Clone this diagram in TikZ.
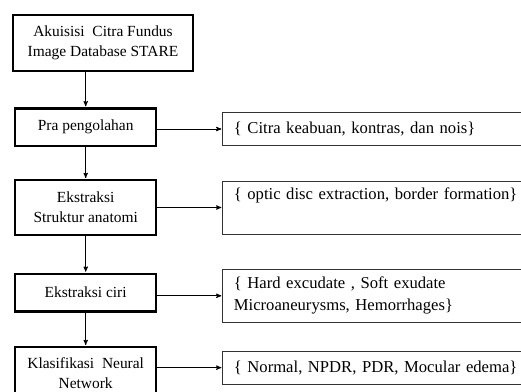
\documentclass[tikz,border=0pt]{standalone}
\usepackage{fontspec}
\setmainfont{Liberation Serif}
\usetikzlibrary{arrows, positioning}

\begin{document}
\begin{tikzpicture}[>=stealth',shorten >=1pt, line width=0.9bp,
		tahap/.style={draw, line width=2.4bp, minimum width=141bp, align=center,
			font=\fontsize{15.5}{20}\selectfont, inner sep=2bp},
		ket/.style={draw=black!80, line width=1bp, text width=285bp, inner xsep=11bp,
			align=left, font=\fontsize{16.7}{22}\selectfont}]
		\useasboundingbox (0,0) rectangle (521bp,-392bp);

		\node[tahap, minimum width=179.6bp, minimum height=55.6bp] (0) at (103bp,-43bp)
			{Akuisisi\ \ Citra Fundus\\Image Database STARE};
		\node[tahap, minimum height=37.6bp] (1) [below=35.3bp of 0, xshift=-17.3bp] {Pra pengolahan};
		\node[tahap, minimum height=54.6bp] (2) [below=31.7bp of 1] {Ekstraksi\\Struktur anatomi};
		\node[tahap, minimum height=37.6bp] (3) [below=36.7bp of 2] {Ekstraksi ciri};
		\node[tahap, minimum height=51.5bp] (4) [below=33.3bp of 3] {Klasifikasi\ \ Neural\\Network};

		\node[ket, minimum height=33bp] (n1) [right=65bp of 1, yshift=-1.7bp]
			{\{ Citra keabuan, kontras, dan nois\}};
		\node[ket, minimum height=53bp] (n2) [right=65bp of 2]
			{\{ optic disc extraction, border formation\}\\\strut};
		\node[ket, minimum height=53bp] (n3) [right=65bp of 3, yshift=-3.1bp]
			{\{ Hard excudate , Soft exudate\\Microaneurysms, Hemorrhages\}};
		\node[ket, minimum height=33bp] (n4) [right=65bp of 4, yshift=5.3bp]
			{\{ Normal, NPDR, PDR, Mocular edema\}};

		\path[->](0.south -| 1.north) edge (1.north);
		\path[->](1) edge (2);
		\path[->](2) edge (3);
		\path[->](3) edge (4);

		\path[->](1.east |- n1.west) edge (n1.west);
		\path[->](2.east |- n2.west) edge (n2.west);
		\path[->](3.east |- n3.west) edge (n3.west);
		\path[->](4.east |- n4.west) edge (n4.west);
	\end{tikzpicture}
\end{document}
